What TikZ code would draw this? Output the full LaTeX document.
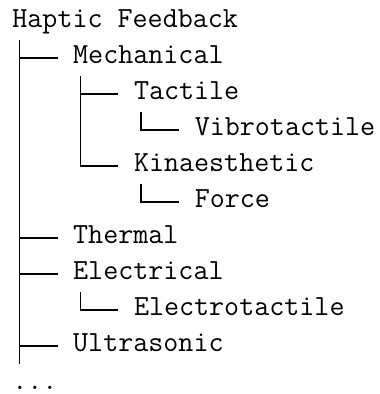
\documentclass[tikz,border=0pt]{standalone}
\usepackage{fontspec}

\def\charw{7.6pt}
\def\halfw{3.8pt}
\def\rowh{18pt}

\tikzset{
  entry/.style={anchor=west, inner sep=0pt, text height=11.65pt, text depth=6.35pt,
    font=\ttfamily\fontsize{14.6}{17}\selectfont},
  branch/.style={line width=0.85pt}
}

\begin{document}
\begin{tikzpicture}
    \useasboundingbox (0,0) rectangle (189.5pt,-197pt);
    \foreach \name/\lvl/\row/\txt in {root/0/0/Haptic Feedback,mech/1/1/Mechanical,
        tact/2/2/Tactile,vibro/3/3/Vibrotactile,kin/2/4/Kinaesthetic,force/3/5/Force,
        therm/1/6/Thermal,elec/1/7/Electrical,etact/2/8/Electrotactile,
        ultra/1/9/Ultrasonic} {
      \node[entry] (\name) at (6pt+\lvl*4*\charw, -11pt-\row*\rowh) {\txt};
    }
    \node[entry, anchor=base west, text height=2pt, text depth=0pt] (more)
      at (6pt, -194.5pt) {...};
    % trunk runs on past the last branch
    \coordinate (trunk) at ([xshift=\halfw]root.south west);
    \draw[branch] (trunk) -- (trunk |- ultra.south);
    \foreach \kid in {mech,therm,elec,ultra}
      \draw[branch] (trunk) |- ([xshift=-\charw]\kid.west);
    \foreach \up/\kid in {mech/tact,mech/kin,tact/vibro,kin/force,elec/etact}
      \draw[branch] ([xshift=\halfw]\up.south west) |- ([xshift=-\charw]\kid.west);
\end{tikzpicture}
\end{document}
